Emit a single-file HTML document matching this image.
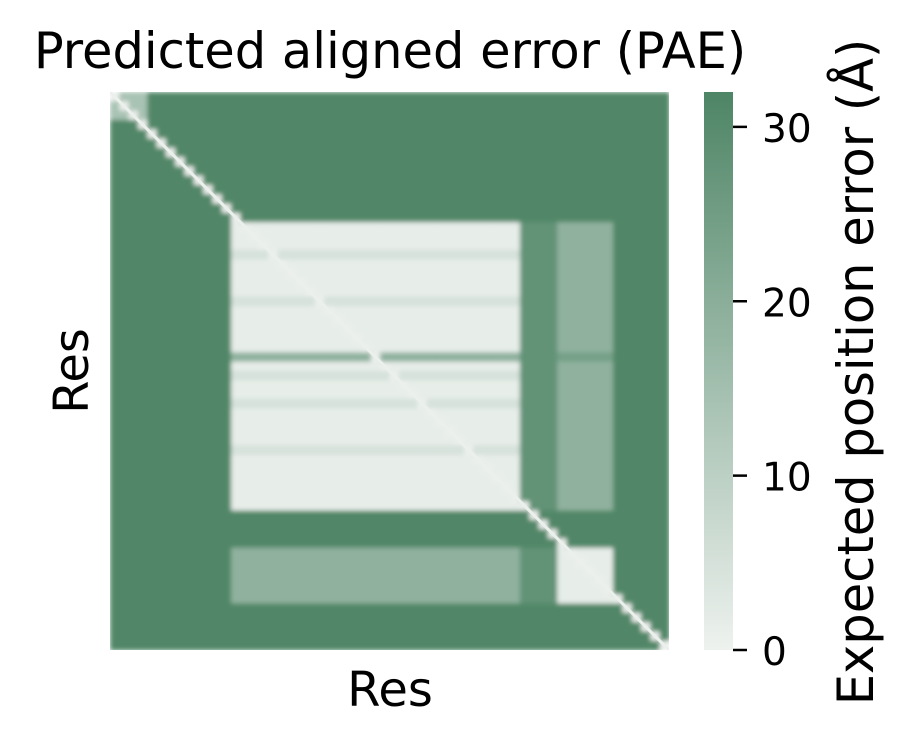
<!DOCTYPE html>
<html><head><meta charset="utf-8"><style>
html,body{margin:0;padding:0;background:#fff;}
svg{display:block;font-family:"DejaVu Sans","Liberation Sans",sans-serif;}
</style></head><body>
<svg id="chart" width="916" height="745" viewBox="0 0 916 745">
<defs>
<filter id="soft" x="0" y="0" width="100%" height="100%"><feGaussianBlur stdDeviation="2.5" edgeMode="duplicate"/></filter>
<clipPath id="hclip"><rect x="110" y="92" width="559" height="558"/></clipPath>
<linearGradient id="cbgrad" x1="0" y1="1" x2="0" y2="0">
<stop offset="0" stop-color="#eef2ef"/><stop offset="1" stop-color="#4e8566"/></linearGradient>
</defs>
<text x="390" y="68" text-anchor="middle" font-size="49.5">Predicted aligned error (PAE)</text>
<g clip-path="url(#hclip)"><g id="cells" filter="url(#soft)"></g></g>
<text x="390" y="706" text-anchor="middle" font-size="48">Res</text>
<text transform="translate(88,371) rotate(-90)" text-anchor="middle" font-size="48">Res</text>
<rect x="704" y="92" width="29" height="558" fill="url(#cbgrad)"/>
<g id="cbticks"></g>
<text transform="translate(873,372) rotate(-90)" text-anchor="middle" font-size="49.5">Expected position error (Å)</text>
</svg>
<script>
const levels = [1.5, 5, 9, 14, 19, 24, 28, 31.5];
const rowPatterns = [
 "777777777777777777777777777777777777777777777777777777777777",
 "777777777777700000000000000000000000000000006666444444777777",
 "777777777777711111111111111111111111111111116666444444777777",
 "777777777777744444444444444444444444444444446666555555777777",
 "777777777777777777777777777777777777777777777777777777777777",
 "777777777777744444444444444444444444444444446666000000777777",
 "777777777777777777777777777777777777777777777777777777777777",
 "333377777777777777777777777777777777777777777777777777777777"
];
const rowMap = [7,7,7,0,0,0,0,0,0,0,0,0,0,0,
 1,1,1,2,1,1,1,1,2,1,1,1,1,1,3,1,2,1,1,2,1,1,1,1,2,1,1,1,1,1,1,
 4,4,4,4,5,5,5,5,5,5,6,6,6,6,6];
const diagValues = [0.5,0.5,0.5,0.5,0.5,0.5,0.5,0.5,0.5,0.5,0.5,0.5,0.5,0.5,0.5,0.5,0.5,0.5,0.5,0.5,
 0.5,0.5,0.5,0.5,0.5,0.5,0.5,0.5,0.5,0.5,0.5,0.5,0.5,0.5,0.5,0.5,0.5,0.5,0.5,0.5,
 0.5,0.5,0.5,0.5,0.5,0.5,0.5,0.5,0.5,0.5,0.5,0.5,0.5,0.5,0.5,0.5,0.5,0.5,0.5,0.5];
const cbTicks = [0, 10, 20, 30];
const vmax = 32;

const NS = "http://www.w3.org/2000/svg";
const X0 = 110, Y0 = 92, W = 559, H = 558;
const n = rowMap.length;
function xs(j){ return X0 + j * W / n; }
function ys(i){ return Y0 + i * H / n; }
function cbY(v){ return 650 - v / vmax * 558; }
function color(v){
  const t = Math.max(0, Math.min(1, v / vmax));
  const a = [238,242,239], b = [78,133,102];
  return "rgb(" + a.map((c,k)=>Math.round(c + (b[k]-c)*t)).join(",") + ")";
}
const g = document.getElementById("cells");
for (let i = 0; i < n; i++) {
  const pat = rowPatterns[rowMap[i]];
  for (let j = 0; j < n; j++) {
    const v = (i === j) ? diagValues[i] : levels[+pat[j]];
    const r = document.createElementNS(NS, "rect");
    r.setAttribute("x", xs(j)); r.setAttribute("y", ys(i));
    r.setAttribute("width", W / n + 0.6); r.setAttribute("height", H / n + 0.6);
    r.setAttribute("fill", color(v));
    
    
    g.appendChild(r);
  }
}
const dl = document.createElementNS(NS, "line");
dl.setAttribute("x1", X0); dl.setAttribute("y1", Y0);
dl.setAttribute("x2", X0 + W); dl.setAttribute("y2", Y0 + H);
dl.setAttribute("stroke", color(diagValues[0])); dl.setAttribute("stroke-width", "3");
dl.setAttribute("clip-path", "url(#hclip)");


document.getElementById("chart").insertBefore(dl, document.getElementById("cbticks"));
const tg = document.getElementById("cbticks");
cbTicks.forEach(t => {
  const y = cbY(t);
  const l = document.createElementNS(NS, "line");
  l.setAttribute("x1", 733); l.setAttribute("x2", 747);
  l.setAttribute("y1", y); l.setAttribute("y2", y);
  l.setAttribute("stroke", "#000"); l.setAttribute("stroke-width", "2.5");
  
  
  tg.appendChild(l);
  const tx = document.createElementNS(NS, "text");
  tx.setAttribute("x", 762); tx.setAttribute("y", y + 15);
  tx.setAttribute("font-size", "39");
  tx.textContent = t;
  
  
  tg.appendChild(tx);
});
</script>
</body></html>
